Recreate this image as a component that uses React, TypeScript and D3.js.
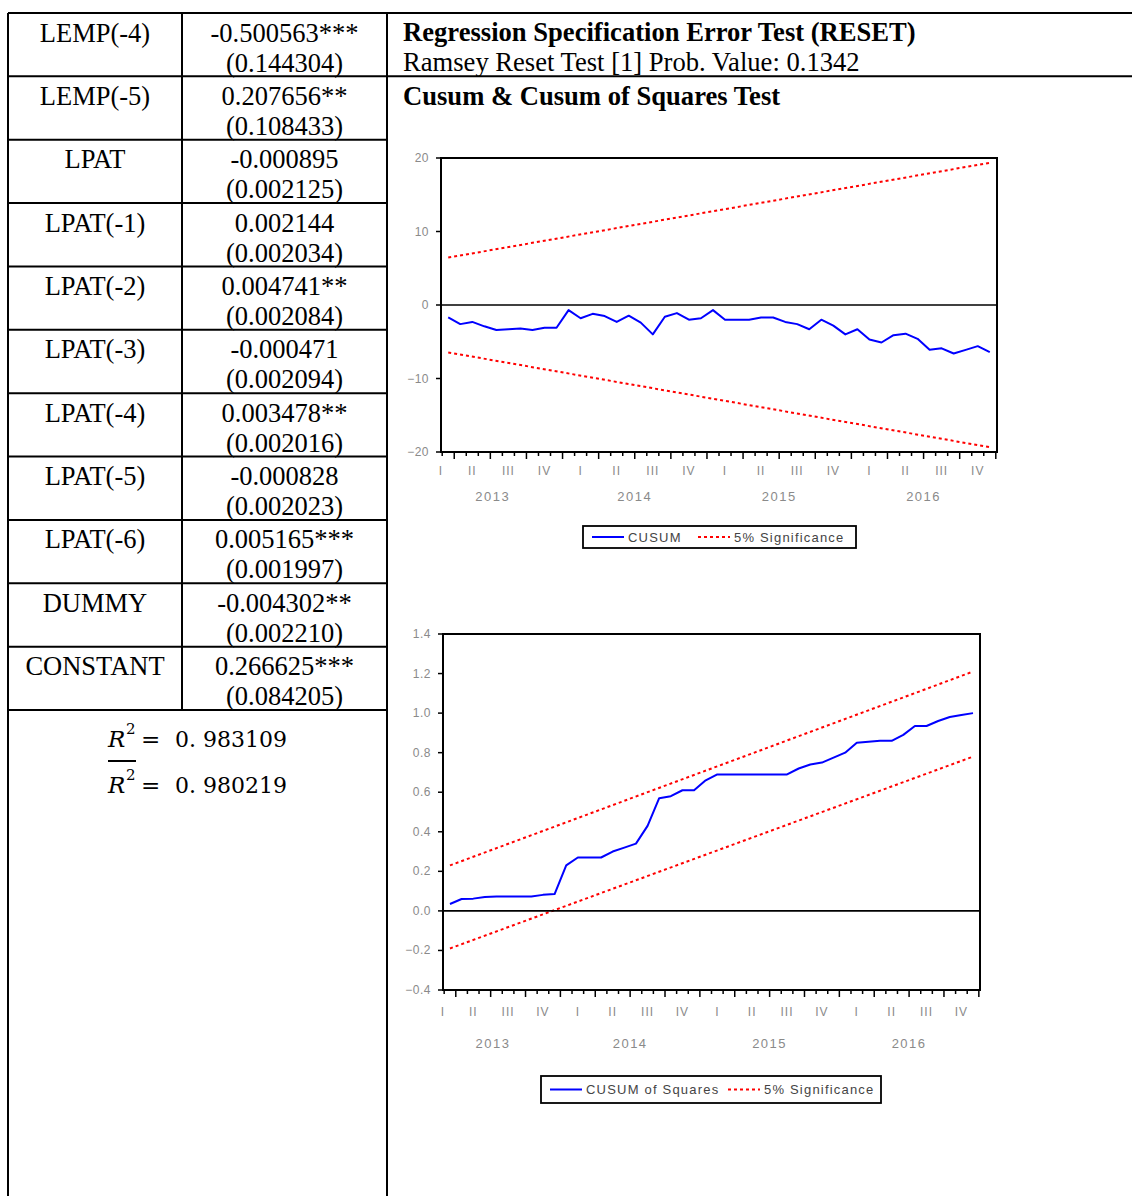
import React from 'react';
import * as d3 from 'd3';

// regression table
const variables = ['LEMP(-4)', 'LEMP(-5)', 'LPAT', 'LPAT(-1)', 'LPAT(-2)', 'LPAT(-3)', 'LPAT(-4)', 'LPAT(-5)', 'LPAT(-6)', 'DUMMY', 'CONSTANT'];
const coefficients = ['-0.500563***', '0.207656**', '-0.000895', '0.002144', '0.004741**', '-0.000471', '0.003478**', '-0.000828', '0.005165***', '-0.004302**', '0.266625***'];
const stdErrors = ['(0.144304)', '(0.108433)', '(0.002125)', '(0.002034)', '(0.002084)', '(0.002094)', '(0.002016)', '(0.002023)', '(0.001997)', '(0.002210)', '(0.084205)'];
const rSquared = '0. 983109';
const adjRSquared = '0. 980219';

const resetTitle = 'Regression Specification Error Test (RESET)';
const resetResult = 'Ramsey Reset Test [1] Prob. Value: 0.1342';
const stabilityTitle = 'Cusum & Cusum of Squares Test';

// time axis: monthly, months counted from 2013M01
const years = ['2013', '2014', '2015', '2016'];
const quarters = ['I', 'II', 'III', 'IV'];
const firstObs = 2; // 2013M03

const cusum = [-1.7, -2.6, -2.3, -2.9, -3.4, -3.3, -3.2, -3.4, -3.1, -3.1,
  -0.7, -1.8, -1.2, -1.5, -2.3, -1.45, -2.4, -4.0, -1.6, -1.1,
  -2.0, -1.8, -0.7, -2.0, -2.0, -2.0, -1.7, -1.7, -2.3, -2.6,
  -3.3, -2.0, -2.8, -4.0, -3.3, -4.7, -5.1, -4.1, -3.9, -4.6,
  -6.1, -5.9, -6.6, -6.1, -5.6, -6.4];
const cusumUpper = [6.45, 19.35];
const cusumLower = [-6.45, -19.35];
const cusumTicks = [20, 10, 0, -10, -20];

const cusumSq = [0.035, 0.06, 0.062, 0.07, 0.073, 0.073, 0.073, 0.073, 0.081, 0.085,
  0.23, 0.27, 0.27, 0.27, 0.30, 0.32, 0.34, 0.43, 0.57, 0.58,
  0.61, 0.61, 0.66, 0.69, 0.69, 0.69, 0.69, 0.69, 0.69, 0.69,
  0.72, 0.74, 0.75, 0.775, 0.80, 0.85, 0.855, 0.86, 0.86, 0.89,
  0.935, 0.935, 0.96, 0.98, 0.99, 1.0];
const cusumSqUpper = [0.23, 1.21];
const cusumSqLower = [-0.19, 0.78];
const cusumSqTicks = [1.4, 1.2, 1.0, 0.8, 0.6, 0.4, 0.2, 0.0, -0.2, -0.4];

const W = 1132;
const H = 1196;
const serif = '"Liberation Serif", "Times New Roman", serif';
const sans = '"Liberation Sans", Arial, sans-serif';
const axisGrey = '#8a8a8a';

type Frame = { left: number, right: number, top: number, bottom: number };
type Legend = { x: number, y: number, w: number, h: number, red: number };

function StabilityChart(props: {
  frame: Frame, yDomain: [number, number], yTicks: number[], fmt: (v: number) => string,
  series: number[], upper: number[], lower: number[], name: string, legend: Legend,
  quarterY: number, yearY: number,
}) {
  const { frame, yDomain, yTicks, fmt, series, upper, lower, name, legend, quarterY, yearY } = props;
  const x = d3.scaleLinear().domain([1.9, 48.1]).range([frame.left, frame.right]);
  const y = d3.scaleLinear().domain(yDomain).range([frame.bottom, frame.top]);
  const last = series.length - 1;
  const obsX = (i: number) => x(firstObs + i + 0.5);

  const path = d3.line<number>().x((d, i) => obsX(i)).y(d => y(d))(series);
  const boundLine = d3.line<number>().x((d, i) => obsX(i * last)).y(d => y(d));

  const monthTicks = d3.range(2, 49);
  const quarterX = (q: number) => Math.max(frame.left, x(q * 3 + 1.5));

  return (
    <g>
      <path d={boundLine(upper) || ''} fill="none" stroke="#ff0000" strokeWidth={2} strokeDasharray="3 3" />
      <path d={boundLine(lower) || ''} fill="none" stroke="#ff0000" strokeWidth={2} strokeDasharray="3 3" />
      <line x1={frame.left} x2={frame.right} y1={y(0)} y2={y(0)} stroke="#000" strokeWidth={1.6} />
      <path d={path || ''} fill="none" stroke="#0000ff" strokeWidth={2} strokeLinejoin="round" />
      <rect x={frame.left} y={frame.top} width={frame.right - frame.left} height={frame.bottom - frame.top}
        fill="none" stroke="#000" strokeWidth={2} />

      {yTicks.map(t => (
        <g key={t}>
          <line x1={frame.left - 5} x2={frame.left} y1={y(t)} y2={y(t)} stroke="#000" strokeWidth={1.5} />
          <text x={frame.left - 12} y={y(t) + 4} textAnchor="end" fontFamily={sans} fontSize={12}
            letterSpacing={0.5} fill={axisGrey}>{fmt(t)}</text>
        </g>
      ))}

      {monthTicks.map(m => (
        <line key={m} x1={x(m)} x2={x(m)} y1={frame.bottom} y2={frame.bottom + (m % 3 === 0 ? 7 : 4)}
          stroke="#000" strokeWidth={1.5} />
      ))}

      {d3.range(16).map(q => (
        <text key={q} x={quarterX(q)} y={quarterY} textAnchor="middle" fontFamily={sans} fontSize={12}
          letterSpacing={1} fill={axisGrey}>{quarters[q % 4]}</text>
      ))}

      {years.map((yr, k) => (
        <text key={yr} x={(quarterX(k * 4) + quarterX(k * 4 + 3)) / 2} y={yearY} textAnchor="middle"
          fontFamily={sans} fontSize={13} letterSpacing={1.5} fill={axisGrey}>{yr}</text>
      ))}

      <rect x={legend.x} y={legend.y} width={legend.w} height={legend.h} fill="#fff" stroke="#000" strokeWidth={1.8} />
      <line x1={legend.x + 9} x2={legend.x + 41} y1={legend.y + legend.h / 2} y2={legend.y + legend.h / 2}
        stroke="#0000ff" strokeWidth={2} />
      <text x={legend.x + 45} y={legend.y + legend.h / 2 + 4.5} fontFamily={sans} fontSize={13}
        letterSpacing={1.2} fill="#444">{name}</text>
      <line x1={legend.red} x2={legend.red + 32} y1={legend.y + legend.h / 2} y2={legend.y + legend.h / 2}
        stroke="#ff0000" strokeWidth={2} strokeDasharray="3 3" />
      <text x={legend.red + 36} y={legend.y + legend.h / 2 + 4.5} fontFamily={sans} fontSize={13}
        letterSpacing={1.2} fill="#444">5% Significance</text>
    </g>
  );
}

export default function App() {
  const tableLeft = 8, colSplit = 182, tableRight = 387, tableTop = 13, tableBottom = 710;
  const row = d3.scaleLinear().domain([0, variables.length]).range([tableTop, tableBottom]);
  const rowLine = 2;

  return (
    <svg width={W} height={H} style={{ position: 'absolute', left: 0, top: 0, background: '#fff' }}>
      <rect x={0} y={0} width={W} height={H} fill="#fff" />

      {/* table grid */}
      <line x1={tableLeft} x2={W} y1={tableTop} y2={tableTop} stroke="#000" strokeWidth={rowLine} />
      <line x1={tableRight} x2={W} y1={row(1)} y2={row(1)} stroke="#000" strokeWidth={rowLine} />
      {variables.map((v, i) => (
        <line key={v} x1={tableLeft} x2={tableRight} y1={row(i + 1)} y2={row(i + 1)} stroke="#000" strokeWidth={rowLine} />
      ))}
      <line x1={tableLeft} x2={tableLeft} y1={tableTop} y2={H} stroke="#000" strokeWidth={rowLine} />
      <line x1={colSplit} x2={colSplit} y1={tableTop} y2={tableBottom} stroke="#000" strokeWidth={rowLine} />
      <line x1={tableRight} x2={tableRight} y1={tableTop} y2={H} stroke="#000" strokeWidth={rowLine} />

      {/* coefficients */}
      {variables.map((v, i) => (
        <g key={v} fontFamily={serif} fontSize={26.5} fill="#000">
          <text x={(tableLeft + colSplit) / 2} y={row(i) + 28.5} textAnchor="middle">{v}</text>
          <text x={(colSplit + tableRight) / 2} y={row(i) + 28.5} textAnchor="middle">{coefficients[i]}</text>
          <text x={(colSplit + tableRight) / 2} y={row(i) + 58.5} textAnchor="middle">{stdErrors[i]}</text>
        </g>
      ))}

      {/* goodness of fit */}
      <g fontFamily='"DejaVu Serif", serif' fill="#000">
        <text x={108} y={747} fontSize={23} fontStyle="italic">R</text>
        <text x={126} y={734} fontSize={15}>2</text>
        <text x={141} y={747} fontSize={23}>=</text>
        <text x={175} y={747} fontSize={22}>{rSquared}</text>
        <line x1={108} x2={136} y1={761} y2={761} stroke="#000" strokeWidth={2} />
        <text x={108} y={793} fontSize={23} fontStyle="italic">R</text>
        <text x={126} y={780} fontSize={15}>2</text>
        <text x={141} y={793} fontSize={23}>=</text>
        <text x={175} y={793} fontSize={22}>{adjRSquared}</text>
      </g>

      {/* diagnostics */}
      <text x={403} y={41} fontFamily={serif} fontSize={26.6} fontWeight="bold">{resetTitle}</text>
      <text x={403} y={71} fontFamily={serif} fontSize={26.6}>{resetResult}</text>
      <text x={403} y={105} fontFamily={serif} fontSize={26.6} fontWeight="bold">{stabilityTitle}</text>

      <StabilityChart
        frame={{ left: 441, right: 997, top: 158, bottom: 452 }}
        yDomain={[-20, 20]} yTicks={cusumTicks} fmt={d3.format('d')}
        series={cusum} upper={cusumUpper} lower={cusumLower} name="CUSUM"
        legend={{ x: 583, y: 526, w: 273, h: 22, red: 698 }}
        quarterY={475} yearY={501}
      />
      <StabilityChart
        frame={{ left: 443, right: 980, top: 634, bottom: 990 }}
        yDomain={[-0.4, 1.4]} yTicks={cusumSqTicks} fmt={d3.format('.1f')}
        series={cusumSq} upper={cusumSqUpper} lower={cusumSqLower} name="CUSUM of Squares"
        legend={{ x: 541, y: 1076, w: 340, h: 27, red: 728 }}
        quarterY={1016} yearY={1048}
      />
    </svg>
  );
}
